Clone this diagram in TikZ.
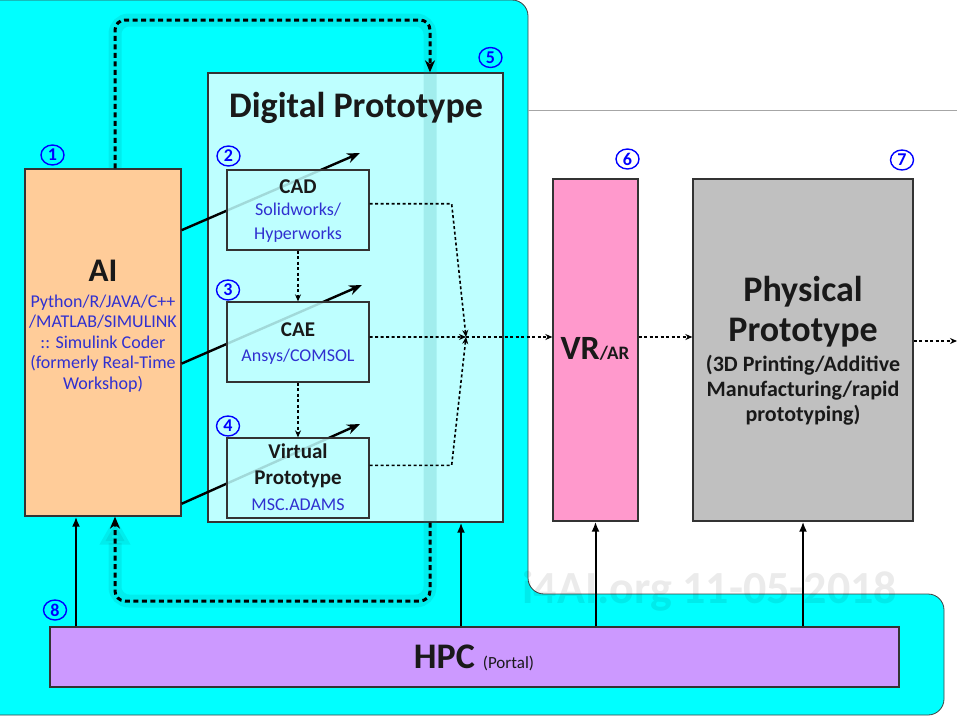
\documentclass[tikz,border=0pt]{standalone}
\usepackage{fontspec}
\setmainfont{Carlito}
\usetikzlibrary{arrows.meta, shapes.geometric}

\definecolor{hgcyan}{HTML}{00FFFF}
\definecolor{dpfarbe}{HTML}{BEFFFF}
\definecolor{aifarbe}{HTML}{FFCC99}
\definecolor{vrfarbe}{HTML}{FF99CC}
\definecolor{ppfarbe}{HTML}{C0C0C0}
\definecolor{hpcfarbe}{HTML}{CC99FF}
\definecolor{textblau}{HTML}{3030D0}
\definecolor{schimmerfarbe}{HTML}{008B8B}

\begin{document}
\begin{tikzpicture}[yscale = -1, line width = 1.3pt,
	kasten/.style = {draw = black!80, line width = 1.3pt, inner sep = 0pt},
	nummer/.style = {ellipse, draw = blue, text = blue, line width = 1.4pt, minimum width = 23pt, minimum height = 20pt, inner sep = 0pt, font = \fontsize{18pt}{18pt}\selectfont\bfseries},
	gross/.style = {text = black!90, font = \fontsize{36pt}{36pt}\selectfont\bfseries},
	mittel/.style = {text = black!90, font = \fontsize{21pt}{21pt}\selectfont\bfseries},
	klein/.style = {text = black!90, font = \fontsize{22pt}{22pt}\selectfont\bfseries},
	blau/.style = {text = textblau, font = \fontsize{18pt}{18pt}\selectfont},
	pfeil/.style = {line width = 2pt, -{Latex[length = 10pt, width = 8pt]}},
	schraeg/.style = {line width = 2.4pt, -{Stealth[length = 13pt, width = 10pt]}},
	punkte/.style = {line width = 1.6pt, dash pattern = on 3pt off 2.5pt, -{Stealth[length = 7pt, width = 6pt]}},
	schleife/.style = {line width = 3pt, dash pattern = on 5pt off 3.5pt, rounded corners = 10pt, -{Stealth[length = 12pt, width = 10pt]}},
	schimmer/.style = {line width = 13pt, draw = schimmerfarbe, opacity = 0.15, rounded corners = 14pt}]
	\useasboundingbox (0pt, 0pt) rectangle (960pt, 720pt);

	% Hintergrund:
	\draw [fill = hgcyan, draw = black!75, line width = 0.8pt, rounded corners = 16pt]
		(-30pt, 0pt) -- (528pt, 0pt) -- (528pt, 594pt) -- (944pt, 594pt) -- (944pt, 715pt) -- (-30pt, 715pt) -- cycle;
	\draw [gray!70, line width = 0.8pt] (528pt, 110pt) -- (957pt, 110pt);

	% Kaesten:
	\node [kasten, fill = dpfarbe, minimum width = 295pt, minimum height = 449pt] (dp) at (355.5pt, 297.5pt) {};
	\node [kasten, fill = aifarbe, minimum width = 156pt, minimum height = 347pt] (ai) at (103pt, 342.5pt) {};
	\node [kasten, fill = vrfarbe, minimum width = 85pt, minimum height = 342pt] (vr) at (595.5pt, 350pt) {};
	\node [kasten, fill = ppfarbe, minimum width = 220pt, minimum height = 342pt] (pp) at (803pt, 350pt) {};
	\node [kasten, fill = hpcfarbe, minimum width = 849pt, minimum height = 60pt] (hpc) at (474.5pt, 657pt) {};

	% Rueckkopplung:
	\coordinate (oben) at (430pt, 20pt);
	\coordinate (unten) at (430pt, 601pt);
	\draw [schimmer, -{Triangle[length = 28pt, width = 29pt]}] ([xshift = 12pt]ai.north) |- (oben) -- (unten) -| ([xshift = 12pt]ai.south);
	\draw [schleife] ([xshift = 12pt]ai.north) |- (oben) -- (oben |- dp.north);
	\draw [schleife] (oben |- dp.south) -- (unten) -| ([xshift = 12pt]ai.south);

	% AI -> Werkzeuge:
	\coordinate (cadziel) at (360pt, 153pt);
	\coordinate (caeziel) at (362pt, 285pt);
	\coordinate (vpziel) at (360pt, 424pt);
	\draw [schraeg] (ai.55) -- (cadziel);
	\draw [schraeg] (ai.-15) -- (caeziel);
	\draw [schraeg] (ai.-64) -- (vpziel);

	\begin{scope}[fill opacity = 0.85]
		\node [kasten, fill = dpfarbe, minimum width = 142pt, minimum height = 80pt] (cad) at (298pt, 210pt) {};
		\node [kasten, fill = dpfarbe, minimum width = 142pt, minimum height = 80pt] (cae) at (298pt, 342pt) {};
		\node [kasten, fill = dpfarbe, minimum width = 142pt, minimum height = 80pt] (vp) at (298pt, 478pt) {};
	\end{scope}

	% Punktierte Pfeile:
	\coordinate (knoten) at (466pt, 337pt);
	\coordinate (ausgang) at (957pt, 341pt);
	\draw [punkte] (cad.south) -- (cae.north);
	\draw [punkte] (cae.south) -- (vp.north);
	\draw [punkte] (cad.5) -- ++(82pt, 0pt) -- (knoten);
	\draw [punkte] (cae.4) -- (knoten);
	\draw [punkte] (vp.10) -- ++(82pt, 0pt) -- (knoten);
	\draw [punkte] (knoten) -- (vr.west |- knoten);
	\draw [punkte] (vr.east |- knoten) -- (pp.west |- knoten);
	\draw [punkte] (pp.east |- ausgang) -- (ausgang);

	% HPC:
	\draw [pfeil] ([xshift = -27pt]ai.south |- hpc.north) -- ([xshift = -27pt]ai.south);
	\draw [pfeil] ([xshift = 105.5pt]dp.south |- hpc.north) -- ([xshift = 105.5pt]dp.south);
	\draw [pfeil] (vr.south |- hpc.north) -- (vr.south);
	\draw [pfeil] (pp.south |- hpc.north) -- (pp.south);

	% Beschriftung
	\begin{scope}[anchor = base]
		\node [gross] (dptitel) at (356pt, 117pt) {Digital Prototype};
		\node [gross, font = \fontsize{33pt}{33pt}\selectfont\bfseries] (aititel) at (103pt, 281pt) {AI};
		\node [blau] (ai1) at (103pt, 307pt) {Python/R/JAVA/C++};
		\node [blau] (ai2) at (103pt, 327pt) {/MATLAB/SIMULINK};
		\node [blau] (ai3) at (103pt, 348pt) {:: Simulink Coder};
		\node [blau] (ai4) at (103pt, 368pt) {(formerly Real-Time};
		\node [blau] (ai5) at (103pt, 389pt) {Workshop)};

		\node [mittel] (cadtitel) at (298pt, 193pt) {CAD};
		\node [blau] (cad1) at (298pt, 215pt) {Solidworks/};
		\node [blau] (cad2) at (298pt, 239pt) {Hyperworks};
		\node [mittel] (caetitel) at (298pt, 336pt) {CAE};
		\node [blau] (cae1) at (298pt, 361pt) {Ansys/COMSOL};
		\node [mittel] (vptitel1) at (298pt, 458pt) {Virtual};
		\node [mittel] (vptitel2) at (298pt, 484pt) {Prototype};
		\node [blau] (vp1) at (298pt, 510pt) {MSC.ADAMS};

		\node [text = black!90] (vrtitel) at (595pt, 359pt) {{\fontsize{34pt}{34pt}\selectfont\bfseries VR}{\fontsize{19pt}{19pt}\selectfont\bfseries /AR}};

		\node [gross] (pptitel1) at (803pt, 301pt) {Physical};
		\node [gross] (pptitel2) at (803pt, 341pt) {Prototype};
		\node [klein] (pp1) at (803pt, 371pt) {(3D Printing/Additive};
		\node [klein] (pp2) at (803pt, 396pt) {Manufacturing/rapid};
		\node [klein] (pp3) at (803pt, 421pt) {prototyping)};

		\node [text = black!90] (hpctitel) at (474pt, 668pt) {{\fontsize{36pt}{36pt}\selectfont\bfseries HPC}\hspace{8pt}{\fontsize{17pt}{17pt}\selectfont (Portal)}};
	\end{scope}

	% Nummern
	\foreach \n/\x/\y in {1/52.5pt/155pt, 2/228.5pt/156pt, 3/228pt/290pt, 4/228pt/426pt, 5/490.5pt/57.5pt, 6/627.5pt/159pt, 7/902pt/160pt, 8/55pt/610pt} {
		\node [nummer] (nr\n) at (\x, \y) {\n};
	}

	% Wasserzeichen
	\node [anchor = base west, inner sep = 0pt, text = black, text opacity = 0.08, font = \fontsize{46pt}{46pt}\selectfont\bfseries] (wasserzeichen) at (522pt, 603pt) {i4AI.org 11-05-2018};
\end{tikzpicture}
\end{document}
